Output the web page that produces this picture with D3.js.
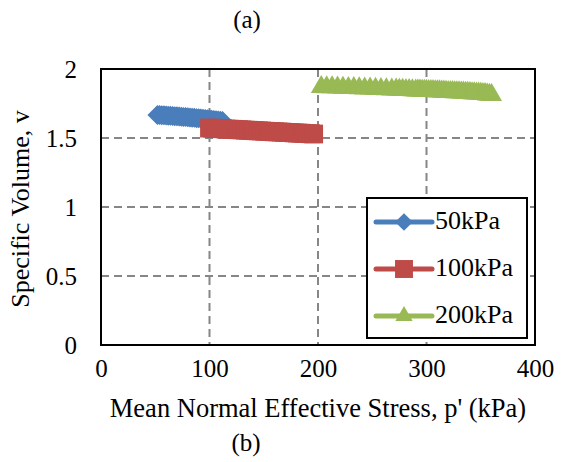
<!DOCTYPE html>
<html>
<head>
<meta charset="utf-8">
<script src="https://cdn.jsdelivr.net/npm/d3@7"></script>
<style>
  body { margin: 0; background: #fff; }
  text { font-family: "Liberation Serif", "Times New Roman", serif; fill: #000; }
</style>
</head>
<body>
<div id="canva"></div>
<script>
// series values
const p50 = [52, 54, 56, 58, 60, 62, 64, 66, 68, 70, 72, 74, 76, 78, 80, 82, 84, 86, 88, 90, 92, 94, 96, 98, 100, 102, 104, 106, 108, 110, 112];
const v50 = [1.667, 1.666, 1.665, 1.664, 1.663, 1.662, 1.661, 1.660, 1.658, 1.657, 1.656, 1.654, 1.653, 1.652, 1.650, 1.649, 1.647, 1.646, 1.644, 1.643, 1.641, 1.640, 1.638, 1.636, 1.635, 1.633, 1.631, 1.629, 1.627, 1.625, 1.623];

const p100 = [100, 103, 106, 109, 112, 115, 118, 121, 124, 127, 130, 133, 136, 139, 142, 145, 148, 151, 154, 157, 160, 163, 166, 169, 172, 175, 178, 181, 184, 187, 190, 193, 196];
const v100 = [1.572, 1.571, 1.569, 1.568, 1.567, 1.565, 1.564, 1.563, 1.561, 1.560, 1.559, 1.557, 1.556, 1.555, 1.553, 1.552, 1.551, 1.549, 1.548, 1.547, 1.545, 1.544, 1.543, 1.541, 1.540, 1.539, 1.537, 1.536, 1.535, 1.533, 1.532, 1.531, 1.529];

const p200 = [203, 208, 213, 218, 223, 228, 233, 238, 243, 248, 253, 258, 263, 268, 272, 275, 278, 281, 284, 287, 290, 292, 294, 296, 298, 300, 302, 304, 306, 308, 310, 312, 314, 316, 318, 320, 322, 324, 326, 328, 330, 332, 334, 336, 338, 340, 342, 344, 346, 348, 350, 352, 354, 356, 358, 360];
const v200 = [1.870, 1.868, 1.867, 1.866, 1.864, 1.863, 1.862, 1.860, 1.859, 1.858, 1.856, 1.855, 1.854, 1.852, 1.851, 1.850, 1.849, 1.848, 1.847, 1.846, 1.845, 1.844, 1.844, 1.843, 1.842, 1.842, 1.841, 1.840, 1.840, 1.839, 1.838, 1.838, 1.837, 1.836, 1.835, 1.834, 1.834, 1.833, 1.832, 1.832, 1.831, 1.830, 1.829, 1.828, 1.827, 1.826, 1.825, 1.824, 1.823, 1.822, 1.820, 1.819, 1.818, 1.816, 1.814, 1.812];

const seriesNames = ["50kPa", "100kPa", "200kPa"];
const xTicks = [0, 100, 200, 300, 400];
const yTicks = [0, 0.5, 1, 1.5, 2];

const width = 567, height = 462;
const margin = { top: 69, right: 32, bottom: 117, left: 101 };
const iwidth = width - margin.left - margin.right;
const iheight = height - margin.top - margin.bottom;

const colors = ["#4a7ebb", "#be4b48", "#98b954"];
const symbols = [d3.symbolDiamond2, d3.symbolSquare2, d3.symbolTriangle2];
const symSize = [255, 450, 310];
const legSize = [200, 410, 215];

const svg = d3.select("#canva").append("svg")
  .attr("width", width)
  .attr("height", height);

const g = svg.append("g")
  .attr("transform", `translate(${margin.left},${margin.top})`);

const x = d3.scaleLinear().domain([0, 400]).range([0, iwidth]);
const y = d3.scaleLinear().domain([0, 2]).range([iheight, 0]);

// grid lines
g.append("g").selectAll("line").data(xTicks.slice(1, -1)).join("line")
  .attr("x1", d => x(d)).attr("x2", d => x(d))
  .attr("y1", 0).attr("y2", iheight)
  .attr("stroke", "#868686").attr("stroke-width", 2).attr("stroke-dasharray", "8,5");
g.append("g").selectAll("line").data(yTicks.slice(1, -1)).join("line")
  .attr("y1", d => y(d)).attr("y2", d => y(d))
  .attr("x1", 0).attr("x2", iwidth)
  .attr("stroke", "#868686").attr("stroke-width", 2).attr("stroke-dasharray", "8,5");

// axes (labels only; border drawn as rect)
const xAxis = g.append("g")
  .attr("transform", `translate(0,${iheight})`)
  .call(d3.axisBottom(x).tickValues(xTicks).tickSize(0).tickPadding(14));
const yAxis = g.append("g")
  .call(d3.axisLeft(y).tickValues(yTicks).tickSize(0).tickPadding(24).tickFormat(d3.format("")));
[xAxis, yAxis].forEach(a => {
  a.select(".domain").remove();
  a.attr("font-family", null).attr("font-size", null);
  a.selectAll("text").style("font-size", "25px");
});

// series
const all = [[p50, v50], [p100, v100], [p200, v200]];
const line = d3.line();
all.forEach(([px, vy], i) => {
  const pts = px.map((p, k) => [x(p), y(vy[k])]);
  g.append("path")
    .attr("d", line(pts))
    .attr("fill", "none")
    .attr("stroke", colors[i])
    .attr("stroke-width", 3);
  g.append("g").selectAll("path").data(pts).join("path")
    .attr("transform", d => `translate(${d[0]},${d[1]})`)
    .attr("d", d3.symbol().type(symbols[i]).size(symSize[i]))
    .attr("fill", colors[i]);
});

// plot border
g.append("rect")
  .attr("width", iwidth).attr("height", iheight)
  .attr("fill", "none").attr("stroke", "#000").attr("stroke-width", 2);

// legend
const lg = svg.append("g").attr("transform", "translate(367,198)");
lg.append("rect").attr("width", 160).attr("height", 140)
  .attr("fill", "#fff").attr("stroke", "#000").attr("stroke-width", 2);
seriesNames.forEach((name, i) => {
  const yy = 24 + i * 47;
  lg.append("line").attr("x1", 9).attr("x2", 65).attr("y1", yy).attr("y2", yy)
    .attr("stroke", colors[i]).attr("stroke-width", 5).attr("stroke-linecap", "round");
  lg.append("path").attr("transform", `translate(37,${yy})`)
    .attr("d", d3.symbol().type(symbols[i]).size(legSize[i]))
    .attr("fill", colors[i]);
  lg.append("text").attr("x", 68).attr("y", yy + 7)
    .style("font-size", "26px").text(name);
});

// titles
svg.append("text").attr("x", 247).attr("y", 28).attr("text-anchor", "middle")
  .style("font-size", "25px").text("(a)");
svg.append("text").attr("x", 318).attr("y", 417).attr("text-anchor", "middle")
  .style("font-size", "26.5px").text("Mean Normal Effective Stress, p' (kPa)");
svg.append("text").attr("x", 246).attr("y", 451).attr("text-anchor", "middle")
  .style("font-size", "25px").text("(b)");
svg.append("text")
  .attr("transform", "translate(29,209) rotate(-90)")
  .attr("text-anchor", "middle")
  .style("font-size", "26px").text("Specific Volume, v");
</script>
</body>
</html>
